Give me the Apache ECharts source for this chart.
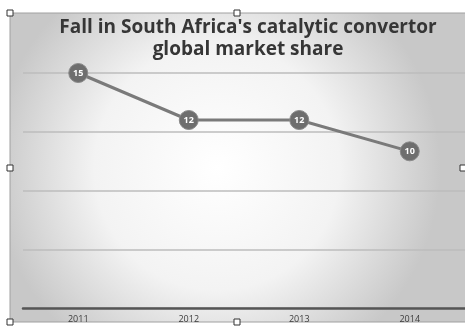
<!DOCTYPE html>
<html>
<head>
<meta charset="utf-8">
<script src="https://cdn.jsdelivr.net/npm/echarts@6/dist/echarts.min.js"></script>
<style>
  html, body { margin: 0; padding: 0; background: #fff; }
  #chart { width: 465px; height: 327px; }
</style>
</head>
<body>
<div id="chart"></div>
<script>
const years = ['2011', '2012', '2013', '2014']
const share = [15, 12, 12, 10]
const titleText = "Fall in South Africa's catalytic convertor\nglobal market share"

const chart = echarts.init(document.getElementById('chart'))

// small selection handles drawn round the chart frame
const handles = [[10, 13], [237, 13], [10, 168], [237, 322], [10, 322], [463, 168]].map(p => ({
  type: 'rect',
  shape: { x: p[0] - 3, y: p[1] - 3, width: 6, height: 6 },
  style: { fill: '#fff', stroke: '#333', lineWidth: 1 },
  z: 10
}))

const option = {
  backgroundColor: '#fff',
  graphic: [
    {
      type: 'rect',
      shape: { x: 10, y: 13, width: 460, height: 309 },
      style: {
        fill: {
          type: 'radial',
          x: 0.45,
          y: 0.5,
          r: 0.72,
          colorStops: [
            { offset: 0, color: '#ffffff' },
            { offset: 0.55, color: '#f3f3f3' },
            { offset: 1, color: '#c8c8c8' }
          ]
        },
        stroke: '#a0a0a0',
        lineWidth: 1
      },
      z: -10
    },
    ...handles
  ],
  title: {
    text: titleText,
    left: 243,
    top: 12,
    textAlign: 'center',
    textStyle: {
      fontFamily: 'Open Sans',
      fontWeight: 'bold',
      fontSize: 19,
      lineHeight: 22,
      color: '#363636'
    }
  },
  grid: {
    left: 23,
    right: -3,
    top: 73,
    bottom: 19,
    containLabel: false
  },
  xAxis: {
    type: 'category',
    data: years,
    boundaryGap: true,
    axisLine: {
      lineStyle: { color: '#555', width: 2.5 }
    },
    axisTick: { show: false },
    axisLabel: {
      color: '#3c3c3c',
      fontSize: 9,
      fontFamily: 'Open Sans',
      margin: 7
    }
  },
  yAxis: {
    type: 'value',
    min: 0,
    max: 15,
    interval: 3.75,
    axisLine: { show: false },
    axisTick: { show: false },
    axisLabel: { show: false },
    splitLine: {
      lineStyle: { color: '#bdbdbd', width: 1.5 }
    }
  },
  series: [
    {
      name: 'Share',
      type: 'line',
      data: share,
      lineStyle: { color: '#7a7a7a', width: 3 },
      itemStyle: { color: '#6e6e6e', borderColor: '#8a8a8a', borderWidth: 1 },
      symbol: 'circle',
      symbolSize: 19,
      label: {
        show: true,
        position: 'inside',
        color: '#fff',
        fontSize: 9,
        fontWeight: 'bold',
        fontFamily: 'Open Sans'
      },
      z: 5
    }
  ]
}

chart.setOption(option)
</script>
</body>
</html>
